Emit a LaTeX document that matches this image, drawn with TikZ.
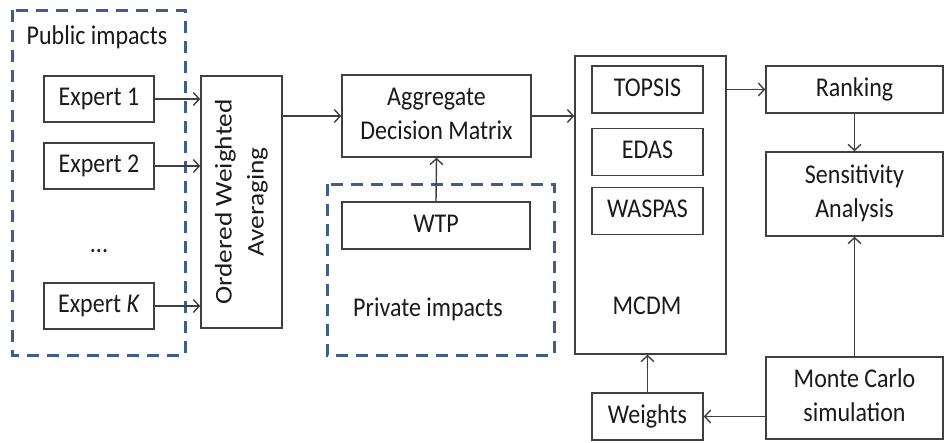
\documentclass[tikz,border=0pt]{standalone}
\usepackage{fontspec}
\usepackage{graphicx}
\setmainfont{Carlito}
\usetikzlibrary{arrows.meta}
\definecolor{linegray}{HTML}{404040}
\definecolor{dashblue}{HTML}{3B5E8C}
\definecolor{txt}{HTML}{1A1A1A}
\newcommand\stx[1]{\scalebox{1}[1.13]{\begin{tabular}{@{}c@{}}#1\end{tabular}}}
\begin{document}
\begin{tikzpicture}[x=1pt,y=-1pt,
  every node/.style={font=\fontsize{24}{30}\selectfont, text=txt},
  box/.style={draw=linegray, line width=1.5pt, inner sep=0pt, align=center},
  grp/.style={draw=dashblue, line width=3pt, dash pattern=on 12pt off 8pt},
  arr/.style={draw=linegray, line width=1.4pt, -{Straight Barb[length=6pt,width=13pt,line width=1.4pt]}},
  lab/.style={inner sep=0pt}]
\useasboundingbox (0,0) rectangle (944,442);
% group boxes
\draw[grp] (12,10) rectangle (185,355);
\draw[grp] (327,184) rectangle (554,355);
\node[lab] (pub) at (97,38) {\stx{Public impacts}};
\node[lab] (priv) at (428,310) {\stx{Private impacts}};
% experts
\node[box, minimum width=110pt, minimum height=46pt] (e1) at (99,99) {\stx{Expert 1}};
\node[box, minimum width=110pt, minimum height=46pt] (e2) at (99,166) {\stx{Expert 2}};
\node[lab] (dots) at (99,246) {\stx{...}};
\node[box, minimum width=110pt, minimum height=46pt] (ek) at (99,306) {\stx{Expert \textit{K}}};
% OWA
\node[box, minimum width=81pt, minimum height=252pt] (owa) at (241.5,202) {};
\node[lab, rotate=90] (owat) at (owa.center) {\scalebox{1.14}[1]{\begin{tabular}{@{}c@{}}Ordered Weighted\\[2pt]Averaging\end{tabular}}};
% aggregate and WTP
\node[box, minimum width=189pt, minimum height=82pt] (agg) at (436.5,116) {\stx{Aggregate\\Decision Matrix}};
\node[box, minimum width=188pt, minimum height=47pt] (wtp) at (436,225.5) {\stx{WTP}};
% MCDM
\node[box, minimum width=151pt, minimum height=298pt] (mcdm) at (650.5,205) {};
\node[box, minimum width=111pt, minimum height=47pt] (topsis) at (647.5,89.5) {\stx{TOPSIS}};
\node[box, minimum width=111pt, minimum height=47pt] (edas) at (647.5,152) {\stx{EDAS}};
\node[box, minimum width=111pt, minimum height=47pt] (waspas) at (647.5,211) {\stx{WASPAS}};
\node[lab] (mcdml) at (647,308) {\stx{MCDM}};
\node[box, minimum width=111pt, minimum height=47pt] (weights) at (647.5,416.5) {\stx{Weights}};
% right column
\node[box, minimum width=177pt, minimum height=47pt] (rank) at (854.5,89.5) {\stx{Ranking}};
\node[box, minimum width=177pt, minimum height=84pt] (sens) at (854.5,194) {\stx{Sensitivity\\Analysis}};
\node[box, minimum width=177pt, minimum height=82pt] (mc) at (854.5,398) {\stx{Monte Carlo\\simulation}};
% connectors
\draw[arr] (e1.east) -- (owa.west |- e1.east);
\draw[arr] (e2.east) -- (owa.west |- e2.east);
\draw[arr] (ek.east) -- (owa.west |- ek.east);
\draw[arr] (owa.east |- agg.west) -- (agg.west);
\draw[arr] (wtp.north) -- (agg.south);
\draw[arr] (agg.east) -- (mcdm.west |- agg.east);
\draw[arr] (mcdm.east |- rank.west) -- (rank.west);
\draw[arr] (rank.south) -- (sens.north);
\draw[arr] (mc.north) -- (sens.south);
\draw[arr] (mc.west |- weights.east) -- (weights.east);
\draw[arr] (weights.north) -- (weights.north |- mcdm.south);
\end{tikzpicture}
\end{document}
